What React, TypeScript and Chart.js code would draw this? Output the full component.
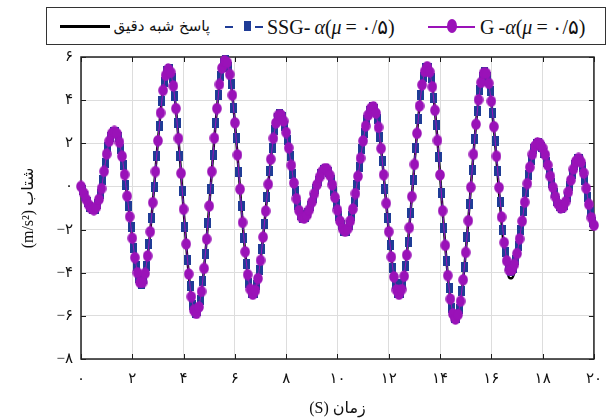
import React, { useEffect, useRef } from "react";
import { Chart, registerables } from "chart.js";

Chart.register(...registerables);

// sampling interval of the responses (s)
const timeStep = 0.1;
// first sample time of the SSG-alpha markers (s)
const ssgStart = 0.05;

// quasi-exact response (m/s^2), t = 0 .. 20 s
const exactValues = [
  0, -0.3, -0.6, -0.85, -1.02, -1.08, -0.95, -0.6, -0.1, 0.7,
  1.5, 2.1, 2.45, 2.55, 2.45, 2.05, 1.4, 0.55, -0.45, -1.4,
  -2.4, -3.3, -4.0, -4.45, -4.45, -4.03, -3.22, -2.1, -0.75, 0.69,
  2.12, 3.41, 4.45, 5.15, 5.44, 5.29, 4.66, 3.61, 2.22, 0.61,
  -1.06, -2.67, -4.06, -5.11, -5.74, -5.89, -5.59, -4.87, -3.8, -2.44,
  -0.91, 0.69, 2.24, 3.61, 4.73, 5.49, 5.83, 5.74, 5.19, 4.23,
  2.95, 1.46, -0.13, -1.67, -3.03, -4.09, -4.77, -5.0, -4.82, -4.27,
  -3.43, -2.35, -1.14, 0.1, 1.26, 2.23, 2.94, 3.3, 3.31, 3.03,
  2.5, 1.79, 0.98, 0.16, -0.57, -1.12, -1.43, -1.47, -1.34, -1.08,
  -0.73, -0.33, 0.08, 0.43, 0.69, 0.82, 0.79, 0.52, 0.07, -0.51,
  -1.1, -1.61, -1.96, -2.08, -1.96, -1.6, -1.05, -0.33, 0.47, 1.31,
  2.11, 2.8, 3.31, 3.62, 3.69, 3.4, 2.74, 1.76, 0.54, -0.78,
  -2.1, -3.27, -4.19, -4.8, -5.0, -4.78, -4.16, -3.18, -1.91, -0.47,
  1.02, 2.46, 3.73, 4.71, 5.33, 5.55, 5.31, 4.62, 3.53, 2.13,
  0.53, -1.13, -2.73, -4.13, -5.22, -5.91, -6.15, -5.94, -5.32, -4.33,
  -3.06, -1.59, -0.04, 1.49, 2.88, 4.02, 4.82, 5.25, 5.24, 4.78,
  3.89, 2.68, 1.25, -0.25, -1.68, -2.89, -3.78, -4.24, -4.26, -3.98,
  -3.43, -2.68, -1.77, -0.81, 0.14, 0.97, 1.63, 2.05, 2.2, 2.11,
  1.86, 1.47, 0.99, 0.47, -0.04, -0.48, -0.81, -0.98, -0.97, -0.71,
  -0.26, 0.29, 0.8, 1.17, 1.3, 1.12, 0.62, -0.09, -0.83, -1.45,
  -1.8,
];

// SSG-alpha (mu = 0.5), t = 0.05 .. 19.95 s
const ssgValues = [
  -0.15, -0.45, -0.73, -0.95, -1.06, -1.04, -0.8, -0.37, 0.3, 1.1,
  1.83, 2.3, 2.53, 2.52, 2.28, 1.75, 1.0, 0.05, -0.93, -1.9,
  -2.87, -3.68, -4.25, -4.5, -4.29, -3.67, -2.69, -1.45, -0.04, 1.41,
  2.79, 3.97, 4.84, 5.35, 5.43, 5.04, 4.18, 2.95, 1.43, -0.23,
  -1.88, -3.4, -4.63, -5.49, -5.88, -5.79, -5.28, -4.37, -3.15, -1.69,
  -0.11, 1.48, 2.96, 4.22, 5.14, 5.71, 5.84, 5.52, 4.75, 3.63,
  2.23, 0.66, -0.92, -2.37, -3.61, -4.48, -4.94, -4.95, -4.59, -3.89,
  -2.91, -1.76, -0.51, 0.7, 1.78, 2.62, 3.16, 3.35, 3.21, 2.8,
  2.17, 1.39, 0.56, -0.22, -0.87, -1.31, -1.48, -1.42, -1.22, -0.91,
  -0.53, -0.12, 0.27, 0.58, 0.77, 0.83, 0.68, 0.32, -0.21, -0.81,
  -1.37, -1.81, -2.05, -2.05, -1.81, -1.35, -0.71, 0.06, 0.89, 1.72,
  2.47, 3.08, 3.5, 3.69, 3.6, 3.12, 2.28, 1.16, -0.12, -1.45,
  -2.7, -3.77, -4.54, -4.95, -4.95, -4.53, -3.71, -2.57, -1.21, 0.28,
  1.76, 3.12, 4.26, 5.08, 5.5, 5.49, 5.02, 4.12, 2.86, 1.35,
  -0.3, -1.95, -3.46, -4.72, -5.62, -6.09, -6.1, -5.67, -4.87, -3.73,
  -2.34, -0.81, 0.74, 2.21, 3.48, 4.46, 5.09, 5.3, 5.07, 4.42,
  3.4, 2.12, 0.7, -0.72, -2.0, -3.02, -3.67, -3.9, -3.77, -3.39,
  -2.78, -2.02, -1.16, -0.28, 0.54, 1.22, 1.73, 1.99, 2.0, 1.84,
  1.53, 1.12, 0.63, 0.14, -0.31, -0.68, -0.92, -1.0, -0.87, -0.5,
  0.01, 0.56, 1.01, 1.27, 1.25, 0.9, 0.28, -0.47, -1.17, -1.67,
];

// G-alpha (mu = 0.5), t = 0 .. 20 s
const gAlphaValues = [
  0, -0.3, -0.6, -0.85, -1.02, -1.08, -0.95, -0.6, -0.1, 0.7,
  1.5, 2.1, 2.45, 2.55, 2.45, 2.05, 1.4, 0.55, -0.45, -1.4,
  -2.4, -3.3, -4.0, -4.45, -4.45, -4.03, -3.22, -2.1, -0.75, 0.69,
  2.12, 3.41, 4.45, 5.15, 5.44, 5.29, 4.66, 3.61, 2.22, 0.61,
  -1.06, -2.67, -4.06, -5.11, -5.74, -5.89, -5.59, -4.87, -3.8, -2.44,
  -0.91, 0.69, 2.24, 3.61, 4.73, 5.49, 5.83, 5.74, 5.19, 4.23,
  2.95, 1.46, -0.13, -1.67, -3.03, -4.09, -4.77, -5.0, -4.82, -4.27,
  -3.43, -2.35, -1.14, 0.1, 1.26, 2.23, 2.94, 3.3, 3.31, 3.03,
  2.5, 1.79, 0.98, 0.16, -0.57, -1.12, -1.43, -1.47, -1.34, -1.08,
  -0.73, -0.33, 0.08, 0.43, 0.69, 0.82, 0.79, 0.52, 0.07, -0.51,
  -1.1, -1.61, -1.96, -2.08, -1.96, -1.6, -1.05, -0.33, 0.47, 1.31,
  2.11, 2.8, 3.31, 3.62, 3.69, 3.4, 2.74, 1.76, 0.54, -0.78,
  -2.1, -3.27, -4.19, -4.8, -5.0, -4.78, -4.16, -3.18, -1.91, -0.47,
  1.02, 2.46, 3.73, 4.71, 5.33, 5.55, 5.31, 4.62, 3.53, 2.13,
  0.53, -1.13, -2.73, -4.13, -5.22, -5.91, -6.15, -5.94, -5.32, -4.33,
  -3.06, -1.59, -0.04, 1.49, 2.88, 4.02, 4.82, 5.25, 5.24, 4.78,
  3.95, 2.77, 1.4, -0.05, -1.42, -2.6, -3.45, -3.88, -3.87, -3.61,
  -3.11, -2.43, -1.61, -0.73, 0.13, 0.89, 1.49, 1.87, 2.02, 1.98,
  1.78, 1.47, 0.99, 0.47, -0.04, -0.48, -0.81, -0.98, -0.97, -0.71,
  -0.26, 0.29, 0.8, 1.17, 1.3, 1.12, 0.62, -0.09, -0.83, -1.45,
  -1.8,
];

const xRange = [0, 20];
const yRange = [-8, 6];
const tickStep = 2;

const exactLabel = "پاسخ شبه دقیق";
const xTitle = "(S) زمان";
const yTitle = "(m/s²) شتاب";

const PURPLE = "#9a12b8";
const BLUE = "#1f3c96";
const faDigits = "۰۱۲۳۴۵۶۷۸۹";
const toFa = (v: number) => {
  const s = String(Math.abs(v)).replace(/\d/g, (d) => faDigits[+d]);
  return v < 0 ? "−" + s : s;
};
const TICK_FONT = "'Liberation Serif', 'DejaVu Sans', serif";

const toPoints = (vals: number[], start = 0) => vals.map((y, i) => ({ x: start + i * timeStep, y }));

const framePlugin = {
  id: "frame",
  beforeDatasetsDraw(chart: any) {
    const { ctx, chartArea } = chart;
    const { left, right, top, bottom } = chartArea;
    const xs = chart.scales.x;
    const ys = chart.scales.y;
    ctx.save();
    ctx.strokeStyle = "#1a1a1a";
    ctx.lineWidth = 1;
    const L = 5;
    ctx.beginPath();
    xs.ticks.forEach((t: any) => {
      const px = Math.round(xs.getPixelForValue(t.value)) + 0.5;
      ctx.moveTo(px, bottom);
      ctx.lineTo(px, bottom - L);
      ctx.moveTo(px, top);
      ctx.lineTo(px, top + L);
    });
    ys.ticks.forEach((t: any) => {
      const py = Math.round(ys.getPixelForValue(t.value)) + 0.5;
      ctx.moveTo(left, py);
      ctx.lineTo(left + L, py);
      ctx.moveTo(right, py);
      ctx.lineTo(right - L, py);
    });
    ctx.stroke();
    ctx.lineWidth = 1.5;
    ctx.strokeStyle = "#222";
    ctx.strokeRect(left, top, right - left, bottom - top);
    ctx.restore();
  },
};

function makeEllipse() {
  const c = document.createElement("canvas");
  c.width = 10;
  c.height = 12;
  const g = c.getContext("2d")!;
  g.fillStyle = PURPLE;
  g.beginPath();
  g.ellipse(5, 6, 4.8, 5.8, 0, 0, Math.PI * 2);
  g.fill();
  return c;
}
function makeRect() {
  const c = document.createElement("canvas");
  c.width = 7;
  c.height = 10;
  const g = c.getContext("2d")!;
  g.fillStyle = BLUE;
  g.fillRect(0, 0, 7, 10);
  return c;
}

export default function App() {
  const ref = useRef<HTMLCanvasElement | null>(null);
  useEffect(() => {
    if (!ref.current) return;
    const ellipse = makeEllipse();
    const rect = makeRect();
    const chart = new Chart(ref.current, {
      type: "line",
      data: {
        datasets: [
          {
            label: "G-α(μ=۰/۵)",
            data: toPoints(gAlphaValues),
            borderColor: PURPLE,
            backgroundColor: PURPLE,
            borderWidth: 1,
            pointStyle: ellipse as any,
            pointRadius: 5,
            order: 1,
            clip: false as any,
          },
          {
            label: "SSG-α(μ=۰/۵)",
            data: toPoints(ssgValues, ssgStart),
            borderColor: BLUE,
            backgroundColor: BLUE,
            borderWidth: 1.5,
            borderDash: [4, 3],
            pointStyle: rect as any,
            pointRadius: 5,
            order: 2,
            clip: false as any,
          },
          {
            label: exactLabel,
            data: toPoints(exactValues),
            borderColor: "#000",
            borderWidth: 2.5,
            pointRadius: 0,
            cubicInterpolationMode: "monotone",
            order: 3,
            clip: false as any,
          },
        ],
      },
      options: {
        responsive: false,
        animation: false,
        devicePixelRatio: 1,
        layout: { padding: { top: 57, right: 7, left: 0, bottom: 0 } },
        plugins: { legend: { display: false }, tooltip: { enabled: false } },
        scales: {
          x: {
            type: "linear",
            min: xRange[0],
            max: xRange[1],
            ticks: {
              stepSize: tickStep,
              autoSkip: false,
              maxRotation: 0,
              padding: 11,
              color: "#111",
              font: { family: TICK_FONT, size: 15 },
              callback: (v: any) => toFa(Number(v)),
            },
            grid: { color: "#dddddd", lineWidth: 1, drawTicks: false },
            border: { display: false },
            title: {
              display: true,
              text: xTitle,
              color: "#111",
              font: { family: TICK_FONT, size: 16 },
              padding: { top: 0, bottom: 2 },
            },
            afterFit: (s: any) => {
              s.height = 61;
            },
          },
          y: {
            type: "linear",
            min: yRange[0],
            max: yRange[1],
            ticks: {
              stepSize: tickStep,
              autoSkip: false,
              padding: 8,
              color: "#111",
              font: { family: TICK_FONT, size: 15 },
              callback: (v: any) => toFa(Number(v)),
            },
            grid: { color: "#dddddd", lineWidth: 1, drawTicks: false },
            border: { display: false },
            title: {
              display: true,
              text: yTitle,
              color: "#111",
              font: { family: TICK_FONT, size: 16 },
              padding: { top: 19, bottom: 0 },
            },
            afterFit: (s: any) => {
              s.width = 81;
            },
          },
        },
      } as any,
      plugins: [framePlugin],
    });
    return () => chart.destroy();
  }, []);

  const serif = "'Liberation Serif', 'DejaVu Sans', serif";
  const textStyle: React.CSSProperties = {
    position: "absolute",
    top: 16,
    lineHeight: "22px",
    fontSize: 20,
    fontFamily: serif,
    color: "#111",
    whiteSpace: "nowrap",
  };
  const thin = "\u2009";

  return (
    <div style={{ position: "absolute", left: 0, top: 0, width: 613, height: 420, background: "#fff" }}>
      <canvas ref={ref} width={613} height={420} style={{ position: "absolute", left: 0, top: 0 }} />
      <div
        style={{
          position: "absolute",
          left: 46,
          top: 7,
          width: 560,
          height: 38,
          boxSizing: "border-box",
          border: "1.5px solid #333",
          background: "#fff",
        }}
      />
      <div style={{ position: "absolute", left: 60, top: 25, width: 50, height: 3, background: "#000" }} />
      <span
        style={{ ...textStyle, top: 15, right: 613 - 210, fontSize: 15, fontFamily: "'DejaVu Sans', sans-serif" }}
        dir="rtl"
      >
        {exactLabel}
      </span>
      <div style={{ position: "absolute", left: 225, top: 26, width: 8, height: 2, background: BLUE }} />
      <div style={{ position: "absolute", left: 244, top: 21, width: 7, height: 10, background: BLUE }} />
      <div style={{ position: "absolute", left: 255, top: 26, width: 8, height: 2, background: BLUE }} />
      <span style={{ ...textStyle, left: 267 }}>
        SSG-{thin}<i>α</i>(<i>μ</i>{thin}={thin}۰/۵)
      </span>
      <div style={{ position: "absolute", left: 428, top: 26, width: 47, height: 1.5, background: PURPLE }} />
      <div
        style={{
          position: "absolute",
          left: 447,
          top: 19,
          width: 10,
          height: 14,
          borderRadius: "50%",
          background: PURPLE,
        }}
      />
      <span style={{ ...textStyle, left: 480 }}>
        G{thin}-<i>α</i>(<i>μ</i>{thin}={thin}۰/۵)
      </span>
    </div>
  );
}
